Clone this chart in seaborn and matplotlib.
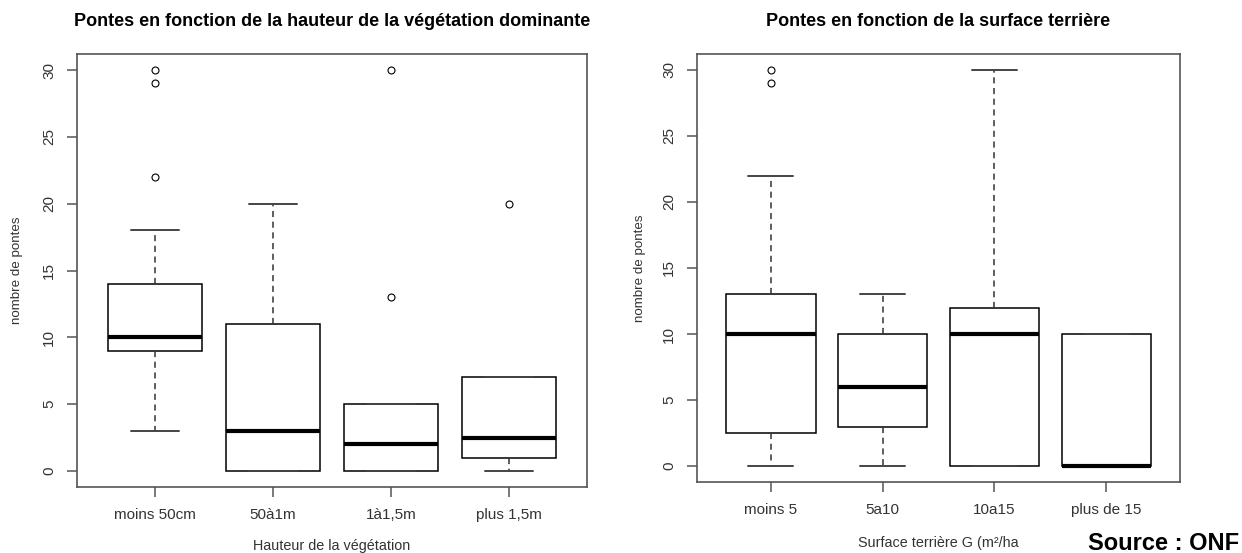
import numpy as np
import pandas as pd
import matplotlib
matplotlib.use("Agg")
import matplotlib.pyplot as plt
import seaborn as sns

# ---------------- data (nombre de pontes par placette) ----------------
# hauteur de la vegetation dominante
veg_classes = ["moins 50cm", "50à1m", "1à1,5m", "plus 1,5m"]
veg_moins_50cm = [3, 5, 7, 8, 9, 9, 10, 10, 10, 11, 12, 13, 14, 18, 22, 29, 30]
veg_50_a_1m = [0, 0, 0, 1, 3, 6, 11, 15, 20]
veg_1_a_1_5m = [0, 0, 0, 0, 1, 2, 2, 3, 4, 5, 5, 13, 30]
veg_plus_1_5m = [0, 1, 1, 1, 2, 3, 7, 7, 7, 20]

# surface terriere G
surf_classes = ["moins 5", "5a10", "10a15", "plus de 15"]
surf_moins_5 = [0, 0, 1, 2, 2, 4, 7, 9, 10, 10, 11, 12, 13, 13, 16, 22, 29, 30]
surf_5_a_10 = [0, 2, 3, 5, 6, 8, 10, 12, 13]
surf_10_a_15 = [0, 0, 0, 5, 10, 11, 12, 20, 30]
surf_plus_15 = [0, 0, 0, 10, 10]

y_ticks = [0, 5, 10, 15, 20, 25, 30]


def long_df(classes, groups):
    rows = []
    for c, vals in zip(classes, groups):
        for v in vals:
            rows.append((c, v))
    return pd.DataFrame(rows, columns=["classe", "pontes"])


df_veg = long_df(veg_classes, [veg_moins_50cm, veg_50_a_1m, veg_1_a_1_5m, veg_plus_1_5m])
df_surf = long_df(surf_classes, [surf_moins_5, surf_5_a_10, surf_10_a_15, surf_plus_15])

sns.set_style("white")
plt.rcParams["font.family"] = ["Liberation Sans", "DejaVu Sans"]

fig = plt.figure(figsize=(12.42, 5.53), dpi=100)
ax1 = fig.add_axes([0.0620, 0.1193, 0.4106, 0.7830])
ax2 = fig.add_axes([0.5612, 0.1284, 0.3889, 0.7740])

frame_col = "#555555"
text_col = "#333333"


def r_boxplot(ax, df, order, title, xlabel, xlab_y, title_y):
    sns.boxplot(data=df, x="classe", y="pontes", order=order, ax=ax,
                color="white", linecolor="black", linewidth=1.1, width=0.8,
                whis=1.5, fliersize=5,
                medianprops=dict(linewidth=3, color="black"),
                whiskerprops=dict(linestyle=(0, (4, 3)), color="#333333"),
                capprops=dict(color="#444444", linewidth=1.4),
                flierprops=dict(marker="o", markerfacecolor="none",
                                markeredgecolor="black", markeredgewidth=0.8))
    ax.set_xlim(-0.66, len(order) - 1 + 0.66)
    ax.set_ylim(-1.2, 31.2)
    ax.set_yticks(y_ticks)
    ax.set_yticklabels([str(t) for t in y_ticks], rotation=90, va="center")
    ax.set_xticks(range(len(order)))
    ax.set_xticklabels(order)
    for s in ax.spines.values():
        s.set_visible(True)
        s.set_color(frame_col)
        s.set_linewidth(1.2)
    ax.tick_params(axis="both", which="major", bottom=True, left=True,
                   direction="out", length=7, width=1.1,
                   color=frame_col, labelcolor=text_col, labelsize=11, pad=8)
    ax.set_xlabel(xlabel, fontsize=10.4, color=text_col, va="center")
    ax.xaxis.set_label_coords(0.5, xlab_y)
    ax.set_ylabel("nombre de pontes", fontsize=9.6, color=text_col, va="center")
    ax.yaxis.set_label_coords(-0.118, 0.5)
    ax.text(0.5, title_y, title, transform=ax.transAxes, ha="center", va="center",
            fontsize=13, fontweight="bold", color="black")


r_boxplot(ax1, df_veg, veg_classes,
          "Pontes en fonction de la hauteur de la végétation dominante",
          "Hauteur de la végétation", -0.136, 1.074)
r_boxplot(ax2, df_surf, surf_classes,
          "Pontes en fonction de la surface terrière",
          "Surface terrière G (m²/ha", -0.1425, 1.077)

fig.text(0.998, 1 - 543 / 553, "Source : ONF", ha="right", va="center",
         fontsize=17, fontweight="bold", color="black")

fig.savefig("out.png", dpi=100, facecolor="white")
